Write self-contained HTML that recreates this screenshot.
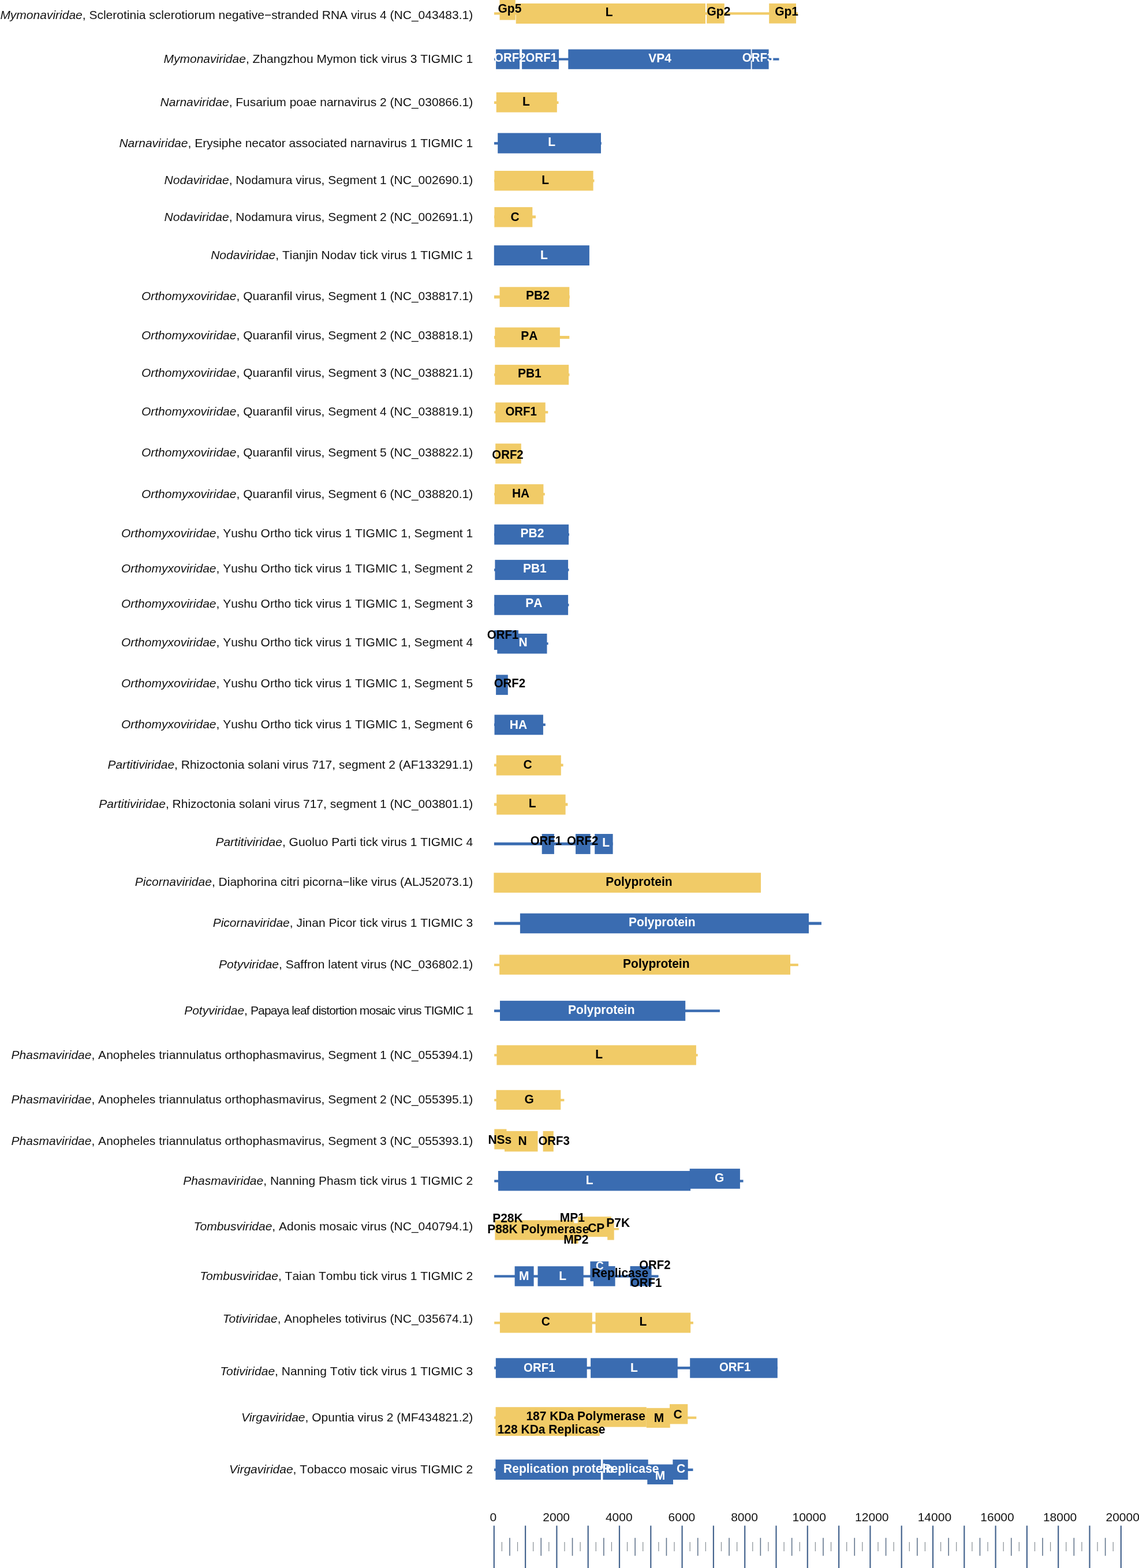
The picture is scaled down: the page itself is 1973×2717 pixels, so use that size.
<!DOCTYPE html><html><head><meta charset="utf-8"><title>Genome organization</title><style>html,body{margin:0;padding:0;background:#fff}svg{display:block}text{font-kerning:none}</style></head><body>
<svg width="1973" height="2717" viewBox="0 0 1973 2717">
<rect width="1973" height="2717" fill="#fff"/>
<g font-family="Liberation Sans, Arial, sans-serif" font-size="21" fill="#111" text-anchor="end">
<text x="819.2" y="32.6"><tspan font-style="italic" style="font-kerning:normal">Mymonaviridae</tspan>, Sclerotinia sclerotiorum negative−stranded RNA virus 4 (NC_043483.1)</text>
<text x="819.2" y="108.6"><tspan font-style="italic" style="font-kerning:normal">Mymonaviridae</tspan>, Zhangzhou Mymon tick virus 3 TIGMIC 1</text>
<text x="819.2" y="183.8"><tspan font-style="italic" style="font-kerning:normal">Narnaviridae</tspan>, Fusarium poae narnavirus 2 (NC_030866.1)</text>
<text x="819.2" y="254.5"><tspan font-style="italic" style="font-kerning:normal">Narnaviridae</tspan>, Erysiphe necator associated narnavirus 1 TIGMIC 1</text>
<text x="819.2" y="318.8"><tspan font-style="italic" style="font-kerning:normal">Nodaviridae</tspan>, Nodamura virus, Segment 1 (NC_002690.1)</text>
<text x="819.2" y="382.8"><tspan font-style="italic" style="font-kerning:normal">Nodaviridae</tspan>, Nodamura virus, Segment 2 (NC_002691.1)</text>
<text x="819.2" y="448.6"><tspan font-style="italic" style="font-kerning:normal">Nodaviridae</tspan>, Tianjin Nodav tick virus 1 TIGMIC 1</text>
<text x="819.2" y="520.2"><tspan font-style="italic" style="font-kerning:normal">Orthomyxoviridae</tspan>, Quaranfil virus, Segment 1 (NC_038817.1)</text>
<text x="819.2" y="588.1"><tspan font-style="italic" style="font-kerning:normal">Orthomyxoviridae</tspan>, Quaranfil virus, Segment 2 (NC_038818.1)</text>
<text x="819.2" y="652.5"><tspan font-style="italic" style="font-kerning:normal">Orthomyxoviridae</tspan>, Quaranfil virus, Segment 3 (NC_038821.1)</text>
<text x="819.2" y="719.9"><tspan font-style="italic" style="font-kerning:normal">Orthomyxoviridae</tspan>, Quaranfil virus, Segment 4 (NC_038819.1)</text>
<text x="819.2" y="790.6"><tspan font-style="italic" style="font-kerning:normal">Orthomyxoviridae</tspan>, Quaranfil virus, Segment 5 (NC_038822.1)</text>
<text x="819.2" y="863.0"><tspan font-style="italic" style="font-kerning:normal">Orthomyxoviridae</tspan>, Quaranfil virus, Segment 6 (NC_038820.1)</text>
<text x="819.2" y="930.5"><tspan font-style="italic" style="font-kerning:normal">Orthomyxoviridae</tspan>, Yushu Ortho tick virus 1 TIGMIC 1, Segment 1</text>
<text x="819.2" y="992.4"><tspan font-style="italic" style="font-kerning:normal">Orthomyxoviridae</tspan>, Yushu Ortho tick virus 1 TIGMIC 1, Segment 2</text>
<text x="819.2" y="1053.4"><tspan font-style="italic" style="font-kerning:normal">Orthomyxoviridae</tspan>, Yushu Ortho tick virus 1 TIGMIC 1, Segment 3</text>
<text x="819.2" y="1119.5"><tspan font-style="italic" style="font-kerning:normal">Orthomyxoviridae</tspan>, Yushu Ortho tick virus 1 TIGMIC 1, Segment 4</text>
<text x="819.2" y="1190.8"><tspan font-style="italic" style="font-kerning:normal">Orthomyxoviridae</tspan>, Yushu Ortho tick virus 1 TIGMIC 1, Segment 5</text>
<text x="819.2" y="1262.0"><tspan font-style="italic" style="font-kerning:normal">Orthomyxoviridae</tspan>, Yushu Ortho tick virus 1 TIGMIC 1, Segment 6</text>
<text x="819.2" y="1331.9"><tspan font-style="italic" style="font-kerning:normal">Partitiviridae</tspan>, Rhizoctonia solani virus 717, segment 2 (AF133291.1)</text>
<text x="819.2" y="1400.2"><tspan font-style="italic" style="font-kerning:normal">Partitiviridae</tspan>, Rhizoctonia solani virus 717, segment 1 (NC_003801.1)</text>
<text x="819.2" y="1466.1"><tspan font-style="italic" style="font-kerning:normal">Partitiviridae</tspan>, Guoluo Parti tick virus 1 TIGMIC 4</text>
<text x="819.2" y="1535.3"><tspan font-style="italic" style="font-kerning:normal">Picornaviridae</tspan>, Diaphorina citri picorna−like virus (ALJ52073.1)</text>
<text x="819.2" y="1606.2"><tspan font-style="italic" style="font-kerning:normal">Picornaviridae</tspan>, Jinan Picor tick virus 1 TIGMIC 3</text>
<text x="819.2" y="1677.9"><tspan font-style="italic" style="font-kerning:normal">Potyviridae</tspan>, Saffron latent virus (NC_036802.1)</text>
<text x="819.2" y="1757.9"><tspan font-style="italic" style="font-kerning:normal">Potyviridae</tspan>,<tspan letter-spacing="-0.82"> Papaya leaf distortion mosaic virus TIGMIC 1</tspan></text>
<text x="819.2" y="1835.1"><tspan font-style="italic" style="font-kerning:normal">Phasmaviridae</tspan>, Anopheles triannulatus orthophasmavirus, Segment 1 (NC_055394.1)</text>
<text x="819.2" y="1911.8"><tspan font-style="italic" style="font-kerning:normal">Phasmaviridae</tspan>, Anopheles triannulatus orthophasmavirus, Segment 2 (NC_055395.1)</text>
<text x="819.2" y="1983.5"><tspan font-style="italic" style="font-kerning:normal">Phasmaviridae</tspan>, Anopheles triannulatus orthophasmavirus, Segment 3 (NC_055393.1)</text>
<text x="819.2" y="2052.6"><tspan font-style="italic" style="font-kerning:normal">Phasmaviridae</tspan>, Nanning Phasm tick virus 1 TIGMIC 2</text>
<text x="819.2" y="2131.7"><tspan font-style="italic" style="font-kerning:normal">Tombusviridae</tspan>, Adonis mosaic virus (NC_040794.1)</text>
<text x="819.2" y="2217.7"><tspan font-style="italic" style="font-kerning:normal">Tombusviridae</tspan>, Taian Tombu tick virus 1 TIGMIC 2</text>
<text x="819.2" y="2292.2"><tspan font-style="italic" style="font-kerning:normal">Totiviridae</tspan>, Anopheles totivirus (NC_035674.1)</text>
<text x="819.2" y="2383.4"><tspan font-style="italic" style="font-kerning:normal">Totiviridae</tspan>, Nanning Totiv tick virus 1 TIGMIC 3</text>
<text x="819.2" y="2463.1"><tspan font-style="italic" style="font-kerning:normal">Virgaviridae</tspan>, Opuntia virus 2 (MF434821.2)</text>
<text x="819.2" y="2553.0"><tspan font-style="italic" style="font-kerning:normal">Virgaviridae</tspan>, Tobacco mosaic virus TIGMIC 2</text>
</g>
<rect x="856.0" y="21.3" width="526.0" height="4.2" fill="#F1CB67"/>
<rect x="865.5" y="-1.0" width="27.3" height="35.6" fill="#F1CB67"/>
<rect x="893.7" y="6.0" width="328.3" height="35.0" fill="#F1CB67"/>
<rect x="1224.2" y="6.0" width="30.6" height="34.6" fill="#F1CB67"/>
<rect x="1332.2" y="6.0" width="46.8" height="34.6" fill="#F1CB67"/>
<rect x="856.0" y="100.6" width="493.5" height="4.0" fill="#3A6CB1"/>
<rect x="859.1" y="85.5" width="41.0" height="34.3" fill="#3A6CB1"/>
<rect x="904.1" y="85.5" width="64.0" height="34.3" fill="#3A6CB1"/>
<rect x="984.3" y="85.5" width="316.4" height="34.3" fill="#3A6CB1"/>
<rect x="1302.5" y="85.5" width="29.1" height="34.3" fill="#3A6CB1"/>
<rect x="856.0" y="175.5" width="111.5" height="4.5" fill="#F1CB67"/>
<rect x="859.7" y="160.0" width="105.1" height="34.6" fill="#F1CB67"/>
<rect x="856.0" y="246.2" width="185.8" height="4.3" fill="#3A6CB1"/>
<rect x="862.2" y="230.5" width="178.8" height="35.2" fill="#3A6CB1"/>
<rect x="856.0" y="311.0" width="173.4" height="4.5" fill="#F1CB67"/>
<rect x="856.4" y="296.0" width="171.2" height="34.4" fill="#F1CB67"/>
<rect x="856.0" y="373.4" width="72.0" height="4.9" fill="#F1CB67"/>
<rect x="856.4" y="358.9" width="65.9" height="34.6" fill="#F1CB67"/>
<rect x="855.8" y="425.2" width="165.1" height="34.8" fill="#3A6CB1"/>
<rect x="856.0" y="511.9" width="130.8" height="5.4" fill="#F1CB67"/>
<rect x="865.5" y="497.3" width="120.8" height="34.6" fill="#F1CB67"/>
<rect x="856.0" y="582.0" width="130.3" height="5.1" fill="#F1CB67"/>
<rect x="857.3" y="567.4" width="112.6" height="34.3" fill="#F1CB67"/>
<rect x="856.0" y="647.2" width="130.5" height="4.4" fill="#F1CB67"/>
<rect x="857.3" y="632.1" width="127.9" height="34.6" fill="#F1CB67"/>
<rect x="856.2" y="712.2" width="93.1" height="4.2" fill="#F1CB67"/>
<rect x="858.2" y="697.4" width="86.5" height="34.6" fill="#F1CB67"/>
<rect x="858.2" y="768.6" width="44.6" height="34.7" fill="#F1CB67"/>
<rect x="856.0" y="854.2" width="87.8" height="4.2" fill="#F1CB67"/>
<rect x="856.8" y="839.1" width="84.6" height="34.6" fill="#F1CB67"/>
<rect x="856.0" y="924.2" width="130.0" height="4.2" fill="#3A6CB1"/>
<rect x="856.2" y="908.8" width="128.9" height="34.9" fill="#3A6CB1"/>
<rect x="856.0" y="985.4" width="129.5" height="4.2" fill="#3A6CB1"/>
<rect x="857.4" y="970.1" width="126.7" height="34.9" fill="#3A6CB1"/>
<rect x="856.0" y="1046.2" width="129.5" height="4.2" fill="#3A6CB1"/>
<rect x="856.2" y="1030.9" width="127.9" height="34.8" fill="#3A6CB1"/>
<rect x="856.0" y="1113.2" width="93.6" height="4.0" fill="#3A6CB1"/>
<rect x="855.9" y="1092.1" width="42.1" height="34.0" fill="#3A6CB1"/>
<rect x="861.3" y="1098.0" width="86.2" height="34.6" fill="#3A6CB1"/>
<rect x="859.1" y="1169.3" width="20.7" height="34.8" fill="#3A6CB1"/>
<rect x="856.0" y="1253.6" width="88.8" height="4.3" fill="#3A6CB1"/>
<rect x="856.5" y="1238.5" width="84.4" height="34.8" fill="#3A6CB1"/>
<rect x="855.9" y="1323.5" width="119.7" height="4.6" fill="#F1CB67"/>
<rect x="859.7" y="1308.7" width="112.1" height="34.9" fill="#F1CB67"/>
<rect x="855.9" y="1391.5" width="127.5" height="4.9" fill="#F1CB67"/>
<rect x="860.2" y="1376.7" width="119.4" height="34.9" fill="#F1CB67"/>
<rect x="855.9" y="1459.7" width="205.7" height="5.0" fill="#3A6CB1"/>
<rect x="938.7" y="1445.0" width="21.2" height="34.9" fill="#3A6CB1"/>
<rect x="997.1" y="1445.0" width="25.5" height="34.9" fill="#3A6CB1"/>
<rect x="1030.2" y="1445.0" width="31.4" height="34.9" fill="#3A6CB1"/>
<rect x="855.4" y="1512.3" width="462.6" height="34.5" fill="#F1CB67"/>
<rect x="856.0" y="1597.5" width="566.9" height="5.1" fill="#3A6CB1"/>
<rect x="900.9" y="1582.7" width="500.1" height="34.6" fill="#3A6CB1"/>
<rect x="856.0" y="1669.8" width="526.8" height="4.3" fill="#F1CB67"/>
<rect x="865.1" y="1654.4" width="503.9" height="34.4" fill="#F1CB67"/>
<rect x="856.0" y="1749.4" width="390.9" height="4.4" fill="#3A6CB1"/>
<rect x="866.0" y="1734.1" width="321.2" height="34.8" fill="#3A6CB1"/>
<rect x="856.2" y="1826.3" width="352.5" height="4.1" fill="#F1CB67"/>
<rect x="860.4" y="1811.2" width="345.5" height="34.3" fill="#F1CB67"/>
<rect x="856.2" y="1904.2" width="121.2" height="4.1" fill="#F1CB67"/>
<rect x="859.6" y="1888.8" width="111.7" height="34.1" fill="#F1CB67"/>
<rect x="856.3" y="1956.5" width="21.1" height="35.0" fill="#F1CB67"/>
<rect x="874.0" y="1959.9" width="57.5" height="35.5" fill="#F1CB67"/>
<rect x="940.6" y="1959.9" width="18.2" height="35.5" fill="#F1CB67"/>
<rect x="856.2" y="2044.4" width="431.3" height="4.2" fill="#3A6CB1"/>
<rect x="862.9" y="2029.0" width="333.2" height="34.4" fill="#3A6CB1"/>
<rect x="1194.7" y="2025.1" width="87.2" height="34.7" fill="#3A6CB1"/>
<rect x="856.0" y="2127.9" width="215.9" height="3.5" fill="#F1CB67"/>
<rect x="857.4" y="2114.4" width="136.9" height="34.2" fill="#F1CB67"/>
<rect x="992.0" y="2119.4" width="9.6" height="35.4" fill="#F1CB67"/>
<rect x="1000.8" y="2108.2" width="58.0" height="35.0" fill="#F1CB67"/>
<rect x="1052.2" y="2113.6" width="11.5" height="35.0" fill="#F1CB67"/>
<rect x="856.1" y="2209.4" width="284.5" height="4.2" fill="#3A6CB1"/>
<rect x="891.6" y="2194.2" width="33.0" height="34.5" fill="#3A6CB1"/>
<rect x="931.5" y="2194.2" width="79.2" height="34.5" fill="#3A6CB1"/>
<rect x="1022.4" y="2185.7" width="31.8" height="34.5" fill="#3A6CB1"/>
<rect x="1028.0" y="2194.0" width="37.6" height="34.7" fill="#3A6CB1"/>
<rect x="1091.6" y="2194.0" width="37.0" height="34.5" fill="#3A6CB1"/>
<rect x="856.2" y="2290.1" width="344.7" height="4.3" fill="#F1CB67"/>
<rect x="865.9" y="2274.6" width="159.9" height="34.9" fill="#F1CB67"/>
<rect x="1031.5" y="2274.6" width="164.7" height="34.9" fill="#F1CB67"/>
<rect x="856.2" y="2368.1" width="490.6" height="4.5" fill="#3A6CB1"/>
<rect x="858.8" y="2353.3" width="157.9" height="34.4" fill="#3A6CB1"/>
<rect x="1023.1" y="2353.3" width="150.7" height="34.4" fill="#3A6CB1"/>
<rect x="1195.2" y="2353.3" width="151.6" height="34.4" fill="#3A6CB1"/>
<rect x="856.2" y="2454.5" width="350.1" height="4.2" fill="#F1CB67"/>
<rect x="858.5" y="2453.0" width="180.2" height="35.0" fill="#F1CB67"/>
<rect x="858.6" y="2438.2" width="261.2" height="34.4" fill="#F1CB67"/>
<rect x="1119.8" y="2439.8" width="40.9" height="34.2" fill="#F1CB67"/>
<rect x="1160.0" y="2433.1" width="31.3" height="34.4" fill="#F1CB67"/>
<rect x="856.0" y="2544.6" width="344.5" height="4.4" fill="#3A6CB1"/>
<rect x="858.4" y="2529.1" width="182.5" height="34.9" fill="#3A6CB1"/>
<rect x="1044.4" y="2529.1" width="78.3" height="34.9" fill="#3A6CB1"/>
<rect x="1121.3" y="2537.5" width="44.7" height="34.6" fill="#3A6CB1"/>
<rect x="1165.4" y="2529.1" width="26.3" height="34.9" fill="#3A6CB1"/>
<g font-family="Liberation Sans, Arial, sans-serif" font-weight="bold" font-size="21">
<text transform="translate(862.5 21.5) scale(1 1.04)" fill="#000">Gp5</text>
<text transform="translate(1048.7 27.7) scale(1 1.04)" fill="#000">L</text>
<text transform="translate(1224.5 27.3) scale(1 1.04)" fill="#000">Gp2</text>
<text transform="translate(1342.2 27.3) scale(1 1.04)" fill="#000">Gp1</text>
<text transform="translate(856.1 107.3) scale(1 1.04)" fill="#fff" font-size="20.4">ORF2</text>
<text transform="translate(910.6 107.3) scale(1 1.04)" fill="#fff" font-size="20.4">ORF1</text>
<text transform="translate(1123.3 107.5) scale(1 1.04)" fill="#fff">VP4</text>
<text transform="translate(1285.8 107.3) scale(1 1.04)" fill="#fff" font-size="20.4">ORF3</text>
<text transform="translate(905.0 182.8) scale(1 1.04)" fill="#000">L</text>
<text transform="translate(949.2 252.9) scale(1 1.04)" fill="#fff">L</text>
<text transform="translate(938.2 318.6) scale(1 1.04)" fill="#000">L</text>
<text transform="translate(884.5 382.9) scale(1 1.04)" fill="#000">C</text>
<text transform="translate(936.0 449.4) scale(1 1.04)" fill="#fff">L</text>
<text transform="translate(911.0 519.2) scale(1 1.04)" fill="#000">PB2</text>
<text transform="translate(902.2 589.3) scale(1 1.04)" fill="#000">PA</text>
<text transform="translate(896.9 654.0) scale(1 1.04)" fill="#000">PB1</text>
<text transform="translate(875.5 719.8) scale(1 1.04)" fill="#000" font-size="20.4">ORF1</text>
<text transform="translate(852.3 794.8) scale(1 1.04)" fill="#000" font-size="20.4">ORF2</text>
<text transform="translate(886.9 861.5) scale(1 1.04)" fill="#000">HA</text>
<text transform="translate(901.6 931.0) scale(1 1.04)" fill="#fff">PB2</text>
<text transform="translate(905.9 992.0) scale(1 1.04)" fill="#fff">PB1</text>
<text transform="translate(910.2 1051.9) scale(1 1.04)" fill="#fff">PA</text>
<text transform="translate(843.8 1106.7) scale(1 1.04)" fill="#000" font-size="20.4">ORF1</text>
<text transform="translate(898.5 1119.8) scale(1 1.04)" fill="#fff">N</text>
<text transform="translate(855.7 1191.1) scale(1 1.04)" fill="#000" font-size="20.4">ORF2</text>
<text transform="translate(882.8 1262.8) scale(1 1.04)" fill="#fff">HA</text>
<text transform="translate(906.6 1331.9) scale(1 1.04)" fill="#000">C</text>
<text transform="translate(915.7 1399.4) scale(1 1.04)" fill="#000">L</text>
<text transform="translate(918.7 1463.9) scale(1 1.04)" fill="#000" font-size="20.4">ORF1</text>
<text transform="translate(982.0 1463.9) scale(1 1.04)" fill="#000" font-size="20.4">ORF2</text>
<text transform="translate(1043.3 1467.0) scale(1 1.04)" fill="#fff">L</text>
<text transform="translate(1049.2 1534.7) scale(1 1.04)" fill="#000">Polyprotein</text>
<text transform="translate(1089.1 1605.0) scale(1 1.04)" fill="#fff">Polyprotein</text>
<text transform="translate(1079.1 1677.2) scale(1 1.04)" fill="#000">Polyprotein</text>
<text transform="translate(984.1 1757.0) scale(1 1.04)" fill="#fff">Polyprotein</text>
<text transform="translate(1031.3 1834.0) scale(1 1.04)" fill="#000">L</text>
<text transform="translate(908.4 1912.3) scale(1 1.04)" fill="#000">G</text>
<text transform="translate(845.4 1982.0) scale(1 1.04)" fill="#000">NSs</text>
<text transform="translate(897.6 1984.2) scale(1 1.04)" fill="#000">N</text>
<text transform="translate(932.5 1984.2) scale(1 1.04)" fill="#000" font-size="20.4">ORF3</text>
<text transform="translate(1014.8 2052.2) scale(1 1.04)" fill="#fff">L</text>
<text transform="translate(1238.0 2048.0) scale(1 1.04)" fill="#fff">G</text>
<text transform="translate(853.2 2118.4) scale(1 1.04)" fill="#000">P28K</text>
<text transform="translate(844.2 2136.8) scale(1 1.04)" fill="#000">P88K Polymerase</text>
<text transform="translate(969.8 2116.8) scale(1 1.04)" fill="#000">MP1</text>
<text transform="translate(1018.2 2135.0) scale(1 1.04)" fill="#000">CP</text>
<text transform="translate(976.3 2154.7) scale(1 1.04)" fill="#000">MP2</text>
<text transform="translate(1050.3 2125.5) scale(1 1.04)" fill="#000">P7K</text>
<text transform="translate(899.1 2217.5) scale(1 1.04)" fill="#fff">M</text>
<text transform="translate(968.2 2217.9) scale(1 1.04)" fill="#fff">L</text>
<text transform="translate(1032.1 2199.8) scale(1 1.04)" fill="#fff" font-size="19.0">C</text>
<text transform="translate(1025.1 2213.1) scale(1 1.04)" fill="#000">Replicase</text>
<text transform="translate(1107.2 2198.9) scale(1 1.04)" fill="#000" font-size="20.4">ORF2</text>
<text transform="translate(1092.0 2229.9) scale(1 1.04)" fill="#000" font-size="20.4">ORF1</text>
<text transform="translate(937.7 2296.6) scale(1 1.04)" fill="#000">C</text>
<text transform="translate(1107.4 2297.0) scale(1 1.04)" fill="#000">L</text>
<text transform="translate(907.1 2377.2) scale(1 1.04)" fill="#fff" font-size="20.4">ORF1</text>
<text transform="translate(1092.0 2377.2) scale(1 1.04)" fill="#fff">L</text>
<text transform="translate(1246.0 2375.8) scale(1 1.04)" fill="#fff" font-size="20.4">ORF1</text>
<text transform="translate(911.4 2460.6) scale(1 1.04)" fill="#000">187 KDa Polymerase</text>
<text transform="translate(861.7 2483.9) scale(1 1.04)" fill="#000">128 KDa Replicase</text>
<text transform="translate(1132.8 2463.7) scale(1 1.04)" fill="#000">M</text>
<text transform="translate(1166.5 2457.7) scale(1 1.04)" fill="#000">C</text>
<text transform="translate(872.1 2551.5) scale(1 1.04)" fill="#fff">Replication protein</text>
<text transform="translate(1043.4 2551.9) scale(1 1.04)" fill="#fff">Replicase</text>
<text transform="translate(1134.8 2563.5) scale(1 1.04)" fill="#fff">M</text>
<text transform="translate(1172.0 2551.9) scale(1 1.04)" fill="#fff">C</text>
</g>
<g>
<rect x="854.70" y="2643.6" width="2.2" height="80" fill="#45648E"/>
<rect x="868.77" y="2672" width="1.2" height="16" fill="#868E94"/>
<rect x="882.15" y="2664.8" width="1.6" height="31" fill="#62758D"/>
<rect x="895.92" y="2672" width="1.2" height="16" fill="#868E94"/>
<rect x="909.00" y="2643.6" width="2.2" height="80" fill="#45648E"/>
<rect x="923.07" y="2672" width="1.2" height="16" fill="#868E94"/>
<rect x="936.45" y="2664.8" width="1.6" height="31" fill="#62758D"/>
<rect x="950.22" y="2672" width="1.2" height="16" fill="#868E94"/>
<rect x="963.30" y="2643.6" width="2.2" height="80" fill="#45648E"/>
<rect x="977.37" y="2672" width="1.2" height="16" fill="#868E94"/>
<rect x="990.75" y="2664.8" width="1.6" height="31" fill="#62758D"/>
<rect x="1004.52" y="2672" width="1.2" height="16" fill="#868E94"/>
<rect x="1017.60" y="2643.6" width="2.2" height="80" fill="#45648E"/>
<rect x="1031.67" y="2672" width="1.2" height="16" fill="#868E94"/>
<rect x="1045.05" y="2664.8" width="1.6" height="31" fill="#62758D"/>
<rect x="1058.83" y="2672" width="1.2" height="16" fill="#868E94"/>
<rect x="1071.90" y="2643.6" width="2.2" height="80" fill="#45648E"/>
<rect x="1085.97" y="2672" width="1.2" height="16" fill="#868E94"/>
<rect x="1099.35" y="2664.8" width="1.6" height="31" fill="#62758D"/>
<rect x="1113.12" y="2672" width="1.2" height="16" fill="#868E94"/>
<rect x="1126.20" y="2643.6" width="2.2" height="80" fill="#45648E"/>
<rect x="1140.28" y="2672" width="1.2" height="16" fill="#868E94"/>
<rect x="1153.65" y="2664.8" width="1.6" height="31" fill="#62758D"/>
<rect x="1167.42" y="2672" width="1.2" height="16" fill="#868E94"/>
<rect x="1180.50" y="2643.6" width="2.2" height="80" fill="#45648E"/>
<rect x="1194.58" y="2672" width="1.2" height="16" fill="#868E94"/>
<rect x="1207.95" y="2664.8" width="1.6" height="31" fill="#62758D"/>
<rect x="1221.72" y="2672" width="1.2" height="16" fill="#868E94"/>
<rect x="1234.80" y="2643.6" width="2.2" height="80" fill="#45648E"/>
<rect x="1248.88" y="2672" width="1.2" height="16" fill="#868E94"/>
<rect x="1262.25" y="2664.8" width="1.6" height="31" fill="#62758D"/>
<rect x="1276.03" y="2672" width="1.2" height="16" fill="#868E94"/>
<rect x="1289.10" y="2643.6" width="2.2" height="80" fill="#45648E"/>
<rect x="1303.17" y="2672" width="1.2" height="16" fill="#868E94"/>
<rect x="1316.55" y="2664.8" width="1.6" height="31" fill="#62758D"/>
<rect x="1330.33" y="2672" width="1.2" height="16" fill="#868E94"/>
<rect x="1343.40" y="2643.6" width="2.2" height="80" fill="#45648E"/>
<rect x="1357.47" y="2672" width="1.2" height="16" fill="#868E94"/>
<rect x="1370.85" y="2664.8" width="1.6" height="31" fill="#62758D"/>
<rect x="1384.62" y="2672" width="1.2" height="16" fill="#868E94"/>
<rect x="1397.70" y="2643.6" width="2.2" height="80" fill="#45648E"/>
<rect x="1411.78" y="2672" width="1.2" height="16" fill="#868E94"/>
<rect x="1425.15" y="2664.8" width="1.6" height="31" fill="#62758D"/>
<rect x="1438.92" y="2672" width="1.2" height="16" fill="#868E94"/>
<rect x="1452.00" y="2643.6" width="2.2" height="80" fill="#45648E"/>
<rect x="1466.07" y="2672" width="1.2" height="16" fill="#868E94"/>
<rect x="1479.45" y="2664.8" width="1.6" height="31" fill="#62758D"/>
<rect x="1493.22" y="2672" width="1.2" height="16" fill="#868E94"/>
<rect x="1506.30" y="2643.6" width="2.2" height="80" fill="#45648E"/>
<rect x="1520.38" y="2672" width="1.2" height="16" fill="#868E94"/>
<rect x="1533.75" y="2664.8" width="1.6" height="31" fill="#62758D"/>
<rect x="1547.53" y="2672" width="1.2" height="16" fill="#868E94"/>
<rect x="1560.60" y="2643.6" width="2.2" height="80" fill="#45648E"/>
<rect x="1574.67" y="2672" width="1.2" height="16" fill="#868E94"/>
<rect x="1588.05" y="2664.8" width="1.6" height="31" fill="#62758D"/>
<rect x="1601.82" y="2672" width="1.2" height="16" fill="#868E94"/>
<rect x="1614.90" y="2643.6" width="2.2" height="80" fill="#45648E"/>
<rect x="1628.97" y="2672" width="1.2" height="16" fill="#868E94"/>
<rect x="1642.35" y="2664.8" width="1.6" height="31" fill="#62758D"/>
<rect x="1656.12" y="2672" width="1.2" height="16" fill="#868E94"/>
<rect x="1669.20" y="2643.6" width="2.2" height="80" fill="#45648E"/>
<rect x="1683.28" y="2672" width="1.2" height="16" fill="#868E94"/>
<rect x="1696.65" y="2664.8" width="1.6" height="31" fill="#62758D"/>
<rect x="1710.42" y="2672" width="1.2" height="16" fill="#868E94"/>
<rect x="1723.50" y="2643.6" width="2.2" height="80" fill="#45648E"/>
<rect x="1737.57" y="2672" width="1.2" height="16" fill="#868E94"/>
<rect x="1750.95" y="2664.8" width="1.6" height="31" fill="#62758D"/>
<rect x="1764.72" y="2672" width="1.2" height="16" fill="#868E94"/>
<rect x="1777.80" y="2643.6" width="2.2" height="80" fill="#45648E"/>
<rect x="1791.88" y="2672" width="1.2" height="16" fill="#868E94"/>
<rect x="1805.25" y="2664.8" width="1.6" height="31" fill="#62758D"/>
<rect x="1819.03" y="2672" width="1.2" height="16" fill="#868E94"/>
<rect x="1832.10" y="2643.6" width="2.2" height="80" fill="#45648E"/>
<rect x="1846.17" y="2672" width="1.2" height="16" fill="#868E94"/>
<rect x="1859.55" y="2664.8" width="1.6" height="31" fill="#62758D"/>
<rect x="1873.32" y="2672" width="1.2" height="16" fill="#868E94"/>
<rect x="1886.40" y="2643.6" width="2.2" height="80" fill="#45648E"/>
<rect x="1900.47" y="2672" width="1.2" height="16" fill="#868E94"/>
<rect x="1913.85" y="2664.8" width="1.6" height="31" fill="#62758D"/>
<rect x="1927.62" y="2672" width="1.2" height="16" fill="#868E94"/>
<rect x="1940.70" y="2643.6" width="2.2" height="80" fill="#45648E"/>
</g>
<g font-family="Liberation Sans, Arial, sans-serif" font-size="21" fill="#111" text-anchor="middle">
<text x="854.3" y="2636">0</text>
<text x="963.7" y="2636">2000</text>
<text x="1072.3" y="2636">4000</text>
<text x="1180.9" y="2636">6000</text>
<text x="1289.5" y="2636">8000</text>
<text x="1401.7" y="2636">10000</text>
<text x="1510.3" y="2636">12000</text>
<text x="1618.9" y="2636">14000</text>
<text x="1727.5" y="2636">16000</text>
<text x="1836.1" y="2636">18000</text>
<text x="1944.7" y="2636">20000</text>
</g>
</svg></body></html>
